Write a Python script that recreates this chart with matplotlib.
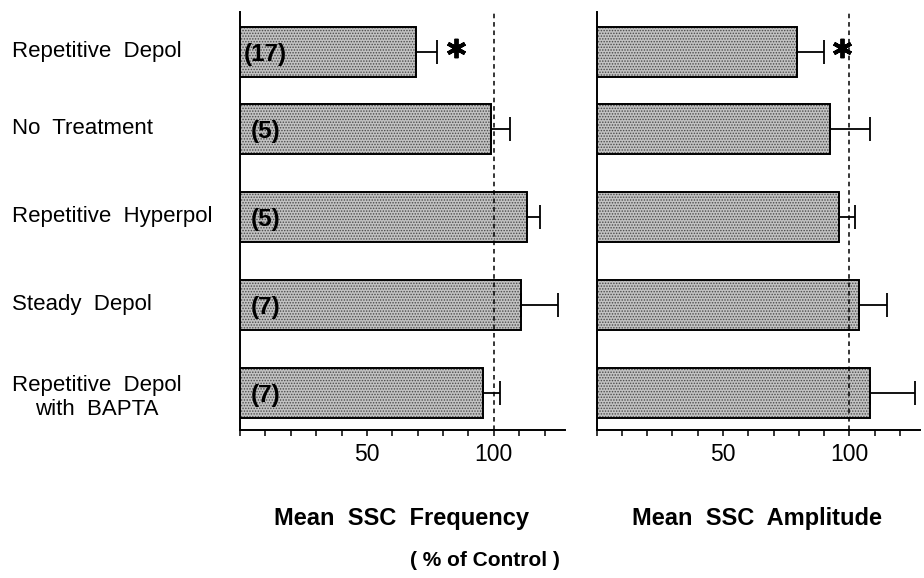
import numpy as np
import matplotlib
matplotlib.use("Agg")
import matplotlib.pyplot as plt
import matplotlib.transforms as mtransforms

plt.rcParams['font.family'] = ['Liberation Sans', 'DejaVu Sans']
plt.rcParams['hatch.linewidth'] = 0.7

# treatment groups, top to bottom
groups = ["Repetitive  Depol", "No  Treatment", "Repetitive  Hyperpol",
          "Steady  Depol", "Repetitive  Depol\nwith  BAPTA"]
n_cells = [17, 5, 5, 7, 7]

# mean SSC frequency / amplitude, % of control, with SEM
freq_mean = [69.4, 98.9, 113.2, 110.8, 95.7]
freq_sem = [8.3, 7.4, 5.0, 14.6, 6.7]
amp_mean = [79.2, 92.5, 95.9, 103.7, 108.2]
amp_sem = [10.7, 15.7, 6.5, 11.3, 17.8]
significant = [True, False, False, False, False]

# vertical layout of the rows (first pair sits a little closer)
row_y = np.array([0, 0.875, 1.875, 2.875, 3.875])
bar_h = 0.56

fig = plt.figure(figsize=(9.24, 5.78), dpi=100)
ax_f = fig.add_axes([0.2597, 0.2561, 0.3517, 0.7232])
ax_a = fig.add_axes([0.6458, 0.2561, 0.3499, 0.7232])


def panel(ax, means, sems):
    ax.barh(row_y, means, bar_h, color='#c2c2c2', edgecolor='#4a4a4a',
            hatch='......', linewidth=0, zorder=2)
    ax.barh(row_y, means, bar_h, fill=False, edgecolor='black',
            linewidth=1.4, zorder=3)
    ax.errorbar(means, row_y, xerr=[np.zeros(len(means)), sems], fmt='none',
                ecolor='black', elinewidth=1.3, capsize=8.5, capthick=1.3,
                zorder=3)
    ax.axvline(100, color='black', lw=1.1, ls=(0, (3, 2.5)), zorder=4)
    for y, m, s, sig in zip(row_y, means, sems, significant):
        if sig:
            ax.plot(m + s + 7.3, y - 0.04, marker=(6, 2, 0), ms=14, mew=2.8,
                    color='black', zorder=5)

    ax.set_xlim(0, 128)
    ax.set_ylim(4.295, -0.4545)
    ax.set_xticks(np.arange(0, 130, 10))
    ax.set_xticklabels(['50' if t == 50 else '100' if t == 100 else ''
                        for t in range(0, 130, 10)], fontsize=16.5)
    ax.set_yticks([])
    ax.tick_params(axis='x', direction='out', length=4, width=1.1, pad=5.5)
    for side in ('top', 'right'):
        ax.spines[side].set_visible(False)
    for side in ('left', 'bottom'):
        ax.spines[side].set_linewidth(1.4)


panel(ax_f, freq_mean, freq_sem)
panel(ax_a, amp_mean, amp_sem)

# cell counts inside the frequency bars
for y, n in zip(row_y, n_cells):
    ax_f.text(10, y + 0.03, f"({n})", ha='center', va='center',
              fontsize=17.5, fontweight='bold', zorder=6)

# group names at the far left
lab_tr = mtransforms.blended_transform_factory(fig.transFigure, ax_f.transData)
for y, g in zip(row_y, groups):
    dy = 0.05 if '\n' in g else 0.0
    ax_f.text(12 / 924, y + dy, g, transform=lab_tr, ha='left', va='center',
              multialignment='center', fontsize=16, linespacing=1.15)

fig.text(402 / 924, 1 - 519 / 578, "Mean  SSC  Frequency", ha='center',
         va='center', fontsize=17, fontweight='bold')
fig.text(757 / 924, 1 - 519 / 578, "Mean  SSC  Amplitude", ha='center',
         va='center', fontsize=17, fontweight='bold')
fig.text(485 / 924, 1 - 560 / 578, "( % of Control )", ha='center',
         va='center', fontsize=15, fontweight='bold')

fig.savefig("out.png", dpi=100)
